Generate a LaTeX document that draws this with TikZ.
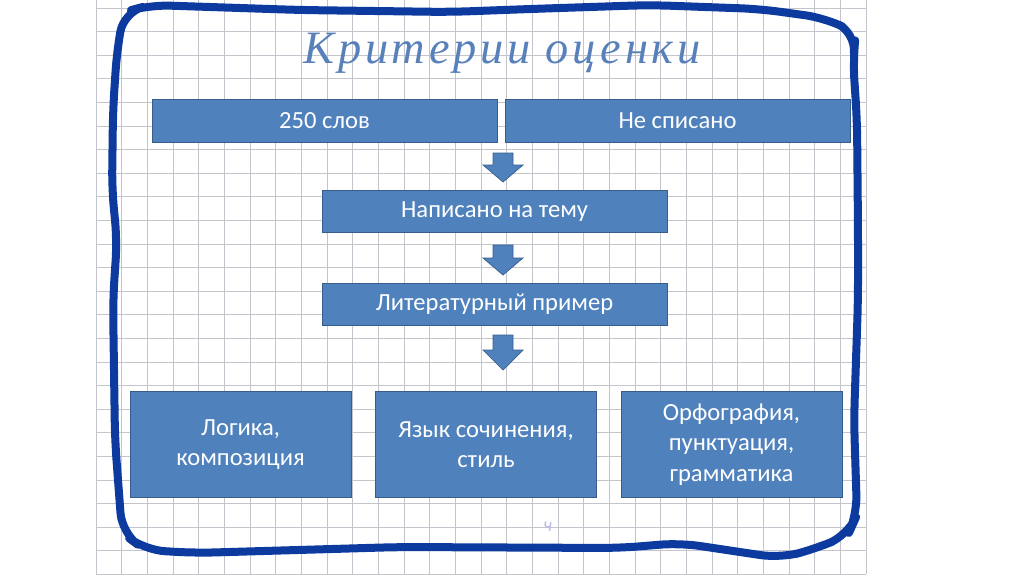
\documentclass[tikz,border=0pt]{standalone}
\usepackage{fontspec}
\setmainfont{Carlito}
\newfontfamily\titlefont[LetterSpace=8]{Liberation Serif}
\usetikzlibrary{calc}
\definecolor{boxblue}{RGB}{79,129,189}
\definecolor{boxline}{RGB}{56,93,138}
\definecolor{penblue}{RGB}{12,58,158}
\definecolor{inkblue}{RGB}{88,128,186}
\definecolor{gridgray}{RGB}{196,196,204}

\begin{document}
\begin{tikzpicture}[x=0.025cm,y=-0.025cm,
  crit/.style={draw=boxline,line width=0.6pt,fill=boxblue,text=white,inner sep=0pt,
    align=center,font=\fontsize{17.5}{21.5}\selectfont},
  wide/.style={crit,minimum width=8.62cm,minimum height=1.06cm},
  tall/.style={crit,minimum width=5.52cm,minimum height=2.63cm},
  gridline/.style={gridgray,line width=0.55pt},
  blockarrow/.style={fill=boxblue,draw=boxline,line width=0.5pt}]
\useasboundingbox (0,0) rectangle (1024,574);
\fill[white] (0,0) rectangle (1024,574);
% squared paper
\foreach \i in {0,...,30}{\draw[gridline] ({96+25.67*\i},0) -- ({96+25.67*\i},574);}
\foreach \j in {0,...,24}{\draw[gridline] (96,{8+23.6*\j}) -- (866,{8+23.6*\j});}
% hand drawn frame
\draw[penblue,line width=0.2cm,line join=round,rounded corners=14]
 (150,5) -- (300,10) -- (450,12) -- (530,9) -- (650,5) -- (760,9) -- (825,18)
 -- (856,33) -- (853,60) -- (857,120) -- (858,230) -- (858,300) -- (854,420)
 -- (857,515) -- (848,535) -- (815,549) -- (780,558) -- (680,543) -- (620,548)
 -- (400,547) -- (195,553) -- (145,550) -- (122,533) -- (115,440) -- (113,300)
 -- (117,240) -- (112,190) -- (113,110) -- (117,50) -- (124,12) -- cycle;
% title
\node[inkblue,anchor=base,font=\titlefont\itshape\fontsize{33}{33}\selectfont] (title) at (502,63) {Критерии оценки};
% criteria boxes
\node[wide] (words) at (324.5,121) {250 слов};
\node[wide] (copy) at (677.5,121) {Не списано};
\node[wide] (topic) at (494.5,211.5) {Написано на тему};
\node[wide] (example) at (494.5,304.5) {Литературный пример};
\node[tall] (logic) at (240.5,444.5) {Логика,\\композиция};
\node[tall] (style) at (486,444.5) {Язык сочинения,\\стиль};
\node[tall] (spelling) at (731.5,444.5) {Орфография,\\пунктуация,\\грамматика};
% block arrows: top / head / tip
\foreach \t/\h/\e in {153/165/182,245/258/275,335/350/370}{
 \draw[blockarrow] (493,\t) -- (513,\t) -- (513,\h) -- (523,\h) -- (503,\e)
   -- (483,\h) -- (493,\h) -- cycle;}
\node[gray!45!blue!35,font=\fontsize{13}{13}\selectfont,rotate=-8] (mark) at (548,527) {ч};
\end{tikzpicture}
\end{document}
